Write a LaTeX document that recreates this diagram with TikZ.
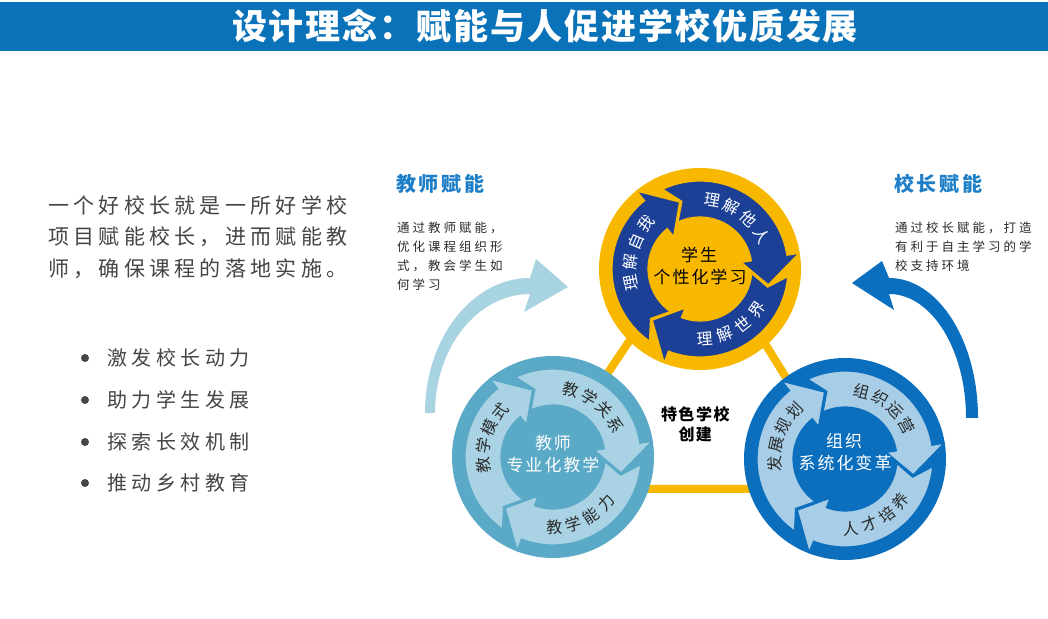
\documentclass[tikz,border=0pt]{standalone}
\usepackage{fontspec}
\setmainfont{Noto Sans CJK SC}
\definecolor{titlebar}{HTML}{0A72B9}
\definecolor{bodytxt}{HTML}{454545}
\definecolor{headblue}{HTML}{1E7FC8}
\definecolor{yel}{HTML}{F8B800}
\definecolor{navy}{HTML}{1C4096}
\definecolor{tealring}{HTML}{5AA9C6}
\definecolor{tealarrow}{HTML}{A9D3E4}
\definecolor{bluering}{HTML}{0C6FBE}
\definecolor{bluearrow}{HTML}{A7CDE7}
\definecolor{bigleft}{HTML}{A8D3E1}
\definecolor{bigright}{HTML}{0B6FBF}
\definecolor{arctxt}{HTML}{2B2B2B}
\def\spx#1#2{\def\spxk{#1}\spxloop#2\relax}
\def\spxloop#1{\ifx#1\relax\else#1\kern\spxk\expandafter\spxloop\fi}
\def\spxfil#1{\spxfilloop#1\relax\relax}
\def\spxfilloop#1#2{#1\ifx#2\relax\else\hfil\expandafter\spxfilloop\expandafter#2\fi}
\newcommand\circarrow[3]{%
  \pgfmathsetmacro\cyB{#1-106}\pgfmathsetmacro\cyP{#1-128}\pgfmathsetmacro\cyN{#1-10}%
  \filldraw[fill=#2, draw=#3, line width=1.2pt, line join=miter]
    (#1:88pt) arc[start angle=#1, end angle=\cyB, radius=88pt]
    -- (\cyB:100pt) -- (\cyP:70pt) -- (\cyB:42pt) -- (\cyB:52pt)
    arc[start angle=\cyB, end angle=#1, radius=52pt] -- (\cyN:70pt) -- cycle;}
\tikzset{
  disc/.style={circle, minimum size=202pt, inner sep=0pt},
  arclbl/.style={inner sep=-3pt, font=\fontsize{16}{18}\selectfont},
  ctrlbl/.style={inner sep=0pt, font=\fontsize{17}{19}\selectfont},
  bodyline/.style={anchor=west, inner sep=0pt, text=bodytxt},
  para/.style={anchor=west, inner sep=0pt, text=arctxt, font=\fontsize{12.5}{15}\selectfont},
  heading/.style={anchor=west, inner sep=0pt, text=headblue, font=\fontsize{20}{22}\selectfont\bfseries},
  dot/.style={circle, fill=bodytxt, minimum size=8pt, inner sep=0pt},
  bullettxt/.style={bodyline, font=\fontsize{20}{22}\selectfont}
}
\begin{document}
\begin{tikzpicture}[x=1pt,y=1pt]
\useasboundingbox (0,0) rectangle (1048,618);
\fill[white] (0,0) rectangle (1048,618);
% title bar
\fill[titlebar] (0,567) rectangle (1048,616);
\node[inner sep=0pt, text=white, font=\fontsize{35}{38}\selectfont\bfseries] (title) at (545,592) {\makebox[626pt][s]{\spxfil{设计理念：赋能与人促进学校优质发展}}};
% left text
\node[bodyline, font=\fontsize{21}{24}\selectfont] (p1) at (48,413) {\spx{4.3pt}{一个好校长就是一所好学校}};
\node[bodyline, font=\fontsize{21}{24}\selectfont] (p2) at (48,381) {\spx{4.3pt}{项目赋能校长，进而赋能教}};
\node[bodyline, font=\fontsize{21}{24}\selectfont] (p3) at (48,349) {\spx{4.3pt}{师，确保课程的落地实施。}};
\node[dot] (b1) at (85,260) {};
\node[dot] (b2) at (85,218) {};
\node[dot] (b3) at (85,176) {};
\node[dot] (b4) at (85,135) {};
\node[bullettxt] (bt1) at (107,260) {\spx{4.5pt}{激发校长动力}};
\node[bullettxt] (bt2) at (107,218) {\spx{4.5pt}{助力学生发展}};
\node[bullettxt] (bt3) at (107,176) {\spx{4.5pt}{探索长效机制}};
\node[bullettxt] (bt4) at (107,135) {\spx{4.5pt}{推动乡村教育}};
% headings and paragraphs
\node[heading] (h1) at (396,434) {\spx{2.7pt}{教师赋能}};
\node[para] (l1) at (397,390) {\spx{3pt}{通过教师赋能，}};
\node[para] (l2) at (397,371) {\spx{3pt}{优化课程组织形}};
\node[para] (l3) at (397,352) {\spx{3pt}{式，教会学生如}};
\node[para] (l4) at (397,333) {\spx{3pt}{何学习}};
\node[heading] (h2) at (894,434) {\spx{2.7pt}{校长赋能}};
\node[para] (r1) at (895,390) {\spx{3pt}{通过校长赋能，打造}};
\node[para] (r2) at (895,371) {\spx{3pt}{有利于自主学习的学}};
\node[para] (r3) at (895,352) {\spx{3pt}{校支持环境}};
% big curved arrows
\fill[bigleft] (425,205) arc[start angle=180, end angle=90, x radius=105pt, y radius=135pt]
  -- (536,359) -- (568,331) -- (524,306) -- (530,324)
  arc[start angle=90, end angle=180, x radius=95pt, y radius=119pt] -- cycle;
\fill[bigright] (978,200) arc[start angle=0, end angle=90, x radius=89pt, y radius=140pt]
  -- (882,357) -- (852,335) -- (894,308) -- (889,324)
  arc[start angle=90, end angle=0, x radius=77pt, y radius=124pt] -- cycle;
% triangle
\coordinate (tv1) at (699,381);
\coordinate (tv2) at (530,129);
\coordinate (tv3) at (855,129);
\draw[yel, line width=8pt, line join=round] (tv1) -- (tv2) -- (tv3) -- cycle;
\node[inner sep=0pt, font=\fontsize{16}{18}\selectfont\bfseries] (ts1) at (696,204) {\spx{1.5pt}{特色学校}};
\node[inner sep=0pt, font=\fontsize{16}{18}\selectfont\bfseries] (ts2) at (696,184) {\spx{1.5pt}{创建}};
% top circle
\node[disc, fill=yel] (c1) at (700,349) {};
\begin{scope}[shift={(c1.center)}]
  \circarrow{115}{navy}{yel}
  \circarrow{-5}{navy}{yel}
  \circarrow{235}{navy}{yel}
  \foreach \ch/\a [count=\i] in {理/80,解/63,他/46,人/29}
    \node[arclbl, text=white, rotate=\a-90] (ua\i) at (\a:70pt) {\ch};
  \foreach \ch/\a [count=\i] in {理/-86,解/-69,世/-52,界/-35}
    \node[arclbl, text=white, rotate=\a+90] (ub\i) at (\a:70pt) {\ch};
  \foreach \ch/\a [count=\i] in {理/191,解/174,自/157,我/140}
    \node[arclbl, text=white, rotate=\a-90] (uc\i) at (\a:70pt) {\ch};
\end{scope}
\node[ctrlbl, text=black] (c1a) at (700,363) {\spx{2pt}{学生}};
\node[ctrlbl, text=black] (c1b) at (701,341) {\spx{2pt}{个性化学习}};
% left circle
\node[disc, fill=tealring] (c2) at (553,161) {};
\begin{scope}[shift={(c2.center)}]
  \circarrow{115}{tealarrow}{tealring}
  \circarrow{-5}{tealarrow}{tealring}
  \circarrow{235}{tealarrow}{tealring}
  \foreach \ch/\a [count=\i] in {教/75,学/59,关/43,系/27}
    \node[arclbl, text=arctxt, rotate=\a-90] (la\i) at (\a:70pt) {\ch};
  \foreach \ch/\a [count=\i] in {教/-89,学/-73,能/-57,力/-41}
    \node[arclbl, text=arctxt, rotate=\a+90] (lb\i) at (\a:70pt) {\ch};
  \foreach \ch/\a [count=\i] in {教/187,学/171,模/155,式/139}
    \node[arclbl, text=arctxt, rotate=\a-90] (lc\i) at (\a:70pt) {\ch};
\end{scope}
\node[ctrlbl, text=white] (c2a) at (554,175) {\spx{2pt}{教师}};
\node[ctrlbl, text=white] (c2b) at (554,153) {\spx{2pt}{专业化教学}};
% right circle
\node[disc, fill=bluering] (c3) at (845,159) {};
\begin{scope}[shift={(c3.center)}]
  \circarrow{115}{bluearrow}{bluering}
  \circarrow{-5}{bluearrow}{bluering}
  \circarrow{235}{bluearrow}{bluering}
  \foreach \ch/\a [count=\i] in {组/76,织/60,运/44,营/28}
    \node[arclbl, text=arctxt, rotate=\a-90] (ra\i) at (\a:70pt) {\ch};
  \foreach \ch/\a [count=\i] in {人/-85,才/-69,培/-53,养/-37}
    \node[arclbl, text=arctxt, rotate=\a+90] (rb\i) at (\a:70pt) {\ch};
  \foreach \ch/\a [count=\i] in {发/184,展/168,规/152,划/136}
    \node[arclbl, text=arctxt, rotate=\a-90] (rc\i) at (\a:70pt) {\ch};
\end{scope}
\node[ctrlbl, text=white] (c3a) at (845,177) {\spx{2pt}{组织}};
\node[ctrlbl, text=white] (c3b) at (846,155) {\spx{2pt}{系统化变革}};
\end{tikzpicture}
\end{document}
